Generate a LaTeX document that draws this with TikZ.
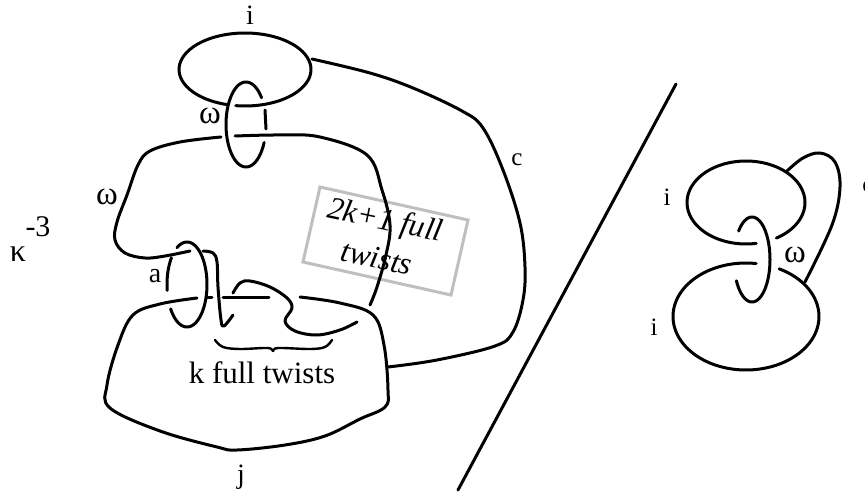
\documentclass[tikz,border=0pt]{standalone}
\usepackage{fontspec}
\setmainfont{Liberation Serif}
\tikzset{
  strand/.style={line width=3pt,line cap=round,line join=round,black},
  thinline/.style={line width=2.4pt,line cap=round,line join=round,black},
  lab/.style={inner sep=0pt,font=\fontsize{28}{30}\selectfont},
  greek/.style={inner sep=0pt,font=\fontsize{33}{36}\selectfont},
  smalllab/.style={inner sep=0pt,font=\fontsize{25}{28}\selectfont},
  big/.style={inner sep=0pt,font=\fontsize{31}{34}\selectfont},
  boxtext/.style={inner sep=0pt,rotate=-12,font=\fontsize{31.5}{34}\selectfont\itshape},
  sm/.style={smooth,tension=0.6},
  arcplot/.style={samples=70,smooth}
}
\begin{document}
\begin{tikzpicture}[x=1pt,y=-1pt]
\useasboundingbox (0,0) rectangle (865,497);
\fill[white] (0,0) rectangle (865,497);
% gray box and its text
\draw[line width=3pt,color=black!25] (320,187) -- (468,220) -- (451,295) -- (303,262) -- cycle;
\node[boxtext] (boxa) at (385,222) {2k+1 full};
\node[boxtext] (boxb) at (377,258) {twists};
% top ellipse i
\draw[strand] plot[arcplot,domain=106:458] ({245+66*cos(\x)},{69.5+36.5*sin(\x)});
% curve c
\draw[strand] plot[sm] coordinates {(312,59) (370,73) (413,88) (462,111) (483,128) (503,170) (520,223) (525,267) (523,300) (513,332) (495,346) (437,360) (388,367)};
% top ring
\draw[strand] plot[arcplot,domain=-335:-39] ({246+20*cos(\x)},{124.5+42.5*sin(\x)});
\draw[strand] (265,110) -- (266,129);
% curve omega
\draw[strand] plot[sm] coordinates {(221,137) (180,142) (150,151) (138,165) (127,195) (117,222) (115,240) (125,253) (145,258) (165,256) (190,251)};
\draw[strand] plot[sm] coordinates {(235,136) (280,135) (320,137) (367,155) (382,190) (390,225) (386,255) (377,287) (370,305)};
% lower ring
\draw[strand] plot[arcplot,domain=172:219] ({187+20*cos(\x)},{284.5+42.5*sin(\x)});
\draw[strand] plot[arcplot,domain=-120:145] ({187+20*cos(\x)},{284.5+42.5*sin(\x)});
% twists
\draw[strand] plot[sm] coordinates {(203,251) (213,253) (217,262) (218,287) (221,320) (224,326) (233,315)};
\draw[strand] plot[sm] coordinates {(233,293) (240,283) (250,281) (270,287) (287,298) (292,308) (285,321) (295,331) (317,335) (340,330) (357,322)};
% lower big curve
\draw[strand] plot[sm] coordinates {(197,298) (160,304) (133,315) (118,345) (107,385) (110,408) (160,431) (217,447) (237,450) (285,445) (325,436) (360,419) (385,407) (388,390) (384,345) (373,315) (340,303) (300,297)};
\draw[strand] (207,297) -- (212,297);
\draw[strand] (223,297) -- (269,297);
% brace
\draw[thinline] plot[sm] coordinates {(215,340) (223,347) (240,349) (268,348) (273,351) (278,348) (310,349) (325,347) (332,340)};
% diagonal
\coordinate (da) at (676,84);
\coordinate (db) at (458,490);
\draw[strand] (da) -- (db);
% right knot
\draw[strand] plot[arcplot,domain=80:419] ({746+59*cos(\x)},{202.5+41.5*sin(\x)});
\draw[strand] plot[arcplot,domain=-423:-82] ({746+73*cos(\x)},{316.5+53.5*sin(\x)});
\draw[strand] plot[sm] coordinates {(787,171) (803,158) (820,153) (835,162) (840,187) (832,225) (805,282)};
\draw[strand] plot[arcplot,domain=-138:150] ({752+18*cos(\x)},{259.5+42.5*sin(\x)});
% labels
\node[lab] (li) at (250,15) {i};
\node[greek] (lw1) at (210,116) {ω};
\node[greek] (lw2) at (107,197) {ω};
\node[lab] (la) at (155,276) {a};
\node[smalllab] (lc) at (517,160) {c};
\node[lab] (lj) at (241,477) {j};
\node[big] (lt) at (262,373) {k full twists};
\node[greek,font=\fontsize{32}{34}\selectfont] (lk) at (18,254) {κ};
\node[lab,font=\fontsize{30}{32}\selectfont] (le) at (38,227) {-3};
\node[smalllab] (ri1) at (667,197) {i};
\node[smalllab] (ri2) at (654,327) {i};
\node[greek] (rw) at (795,255) {ω};
\node[smalllab] (rc) at (868,187) {c};
\end{tikzpicture}
\end{document}
